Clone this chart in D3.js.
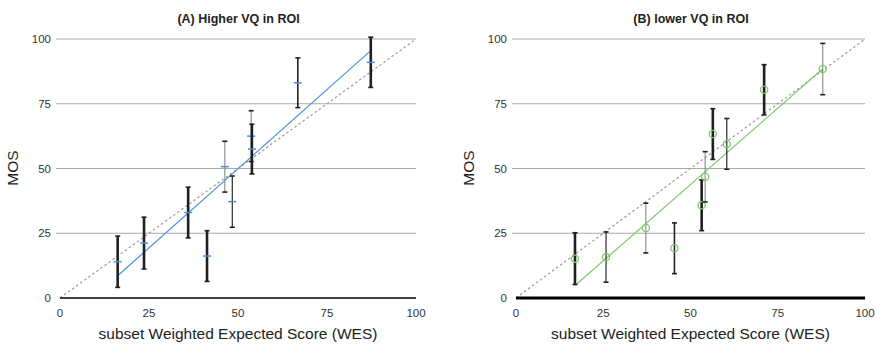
<!DOCTYPE html>
<html>
<head>
<meta charset="utf-8">
<script src="https://cdn.jsdelivr.net/npm/d3@7"></script>
<style>
  body { margin: 0; background: #fff; }
  text { font-family: "Liberation Sans", Arial, Helvetica, sans-serif; }
</style>
</head>
<body>
<svg id="chart" width="876" height="344"></svg>
<script>
var tickValues = [0, 25, 50, 75, 100];

// panel A: higher VQ in ROI
var wesA = [16.2, 23.6, 36.0, 41.3, 46.3, 48.4, 53.7, 53.9, 66.8, 87.3];
var mosA = [14.0, 21.2, 33.0, 16.2, 50.7, 37.2, 62.5, 57.5, 83.1, 91.0];
var errA = [9.9, 10.0, 9.8, 9.8, 9.8, 9.9, 9.8, 9.6, 9.6, 9.7];
var fitA = [[16.2, 8.6], [87.3, 95.5]];

// panel B: lower VQ in ROI
var wesB = [16.9, 25.8, 37.2, 45.4, 53.2, 54.2, 56.4, 60.4, 71.1, 87.9];
var mosB = [15.2, 15.8, 27.0, 19.2, 35.8, 46.8, 63.3, 59.5, 80.4, 88.4];
var errB = [10.0, 9.7, 9.6, 9.8, 9.8, 9.7, 9.8, 9.8, 9.7, 9.9];
var fitB = [[17.0, 4.9], [87.9, 88.5]];

// error bar look, one entry per point (thick black / thin grey as in the figure)
var barStyleA = ['b', 'b', 'b', 'b', 'g', 'k', 'g', 'b', 'm', 'b'];
var barStyleB = ['b', 'k', 'g', 'm', 'b', 'g', 'b', 'k', 'b', 'g'];
var barWidth = { b: 2.6, m: 1.6, k: 1.2, g: 1.1 };
var barColor = { b: '#1f1f1f', m: '#222', k: '#2a2a2a', g: '#888' };

var svg = d3.select('#chart');

function panel(opt) {
  var x = d3.scaleLinear().domain([0, 100]).range(opt.xr);
  var y = d3.scaleLinear().domain([0, 100]).range([298, 39]);
  var g = svg.append('g');

  // grid
  g.selectAll('.grid').data(tickValues.filter(function(d) { return d > 0; }))
    .enter().append('line')
    .attr('x1', opt.xr[0] - 4).attr('x2', opt.xr[1])
    .attr('y1', function(d) { return y(d); }).attr('y2', function(d) { return y(d); })
    .attr('stroke', '#aaa').attr('stroke-width', 1);

  // y labels
  g.selectAll('.yl').data(tickValues).enter().append('text')
    .attr('x', opt.xr[0] - 9).attr('y', function(d) { return y(d); })
    .attr('dy', '0.35em').attr('text-anchor', 'end')
    .attr('font-size', 11.5).attr('fill', '#333')
    .text(function(d) { return d; });

  // x labels
  g.selectAll('.xl').data(tickValues).enter().append('text')
    .attr('x', function(d) { return x(d); }).attr('y', 313)
    .attr('dy', '0.35em').attr('text-anchor', 'middle')
    .attr('font-size', 11.5).attr('fill', '#333')
    .text(function(d) { return d; });

  // identity diagonal
  g.append('line')
    .attr('x1', x(0)).attr('y1', y(0)).attr('x2', x(100)).attr('y2', y(100))
    .attr('stroke', '#999').attr('stroke-width', 1.2).attr('stroke-dasharray', '2.5,2.5');

  // x axis line
  g.append('line')
    .attr('x1', opt.xr[0]).attr('x2', opt.xr[1]).attr('y1', y(0)).attr('y2', y(0))
    .attr('stroke', '#000').attr('stroke-width', opt.axisW);

  // fit line
  g.append('line')
    .attr('x1', x(opt.fit[0][0])).attr('y1', y(opt.fit[0][1]))
    .attr('x2', x(opt.fit[1][0])).attr('y2', y(opt.fit[1][1]))
    .attr('stroke', opt.color).attr('stroke-width', 1.2);

  var pts = opt.wes.map(function(w, i) {
    return { w: w, m: opt.mos[i], e: opt.err[i], s: opt.style[i] };
  });

  var bars = g.selectAll('.bar').data(pts).enter().append('g');
  bars.append('line')
    .attr('x1', function(d) { return x(d.w); }).attr('x2', function(d) { return x(d.w); })
    .attr('y1', function(d) { return y(d.m + d.e); }).attr('y2', function(d) { return y(d.m - d.e); })
    .attr('stroke', function(d) { return barColor[d.s]; })
    .attr('stroke-width', function(d) { return barWidth[d.s]; });
  [1, -1].forEach(function(sgn) {
    bars.append('line')
      .attr('x1', function(d) { return x(d.w) - 2.5; }).attr('x2', function(d) { return x(d.w) + 2.5; })
      .attr('y1', function(d) { return y(d.m + sgn * d.e); }).attr('y2', function(d) { return y(d.m + sgn * d.e); })
      .attr('stroke', '#1f1f1f').attr('stroke-width', 1.6);
  });

  if (opt.marker === 'plus') {
    bars.append('line')
      .attr('x1', function(d) { return x(d.w) - 4; }).attr('x2', function(d) { return x(d.w) + 4; })
      .attr('y1', function(d) { return y(d.m); }).attr('y2', function(d) { return y(d.m); })
      .attr('stroke', opt.color).attr('stroke-width', 1.5);
  } else {
    bars.append('circle')
      .attr('cx', function(d) { return x(d.w); }).attr('cy', function(d) { return y(d.m); })
      .attr('r', 3.6).attr('fill', 'none')
      .attr('stroke', opt.color).attr('stroke-width', 1.3);
  }

  var cx = (opt.xr[0] + opt.xr[1]) / 2;
  g.append('text').attr('x', cx + 0.5).attr('y', 22.5)
    .attr('text-anchor', 'middle').attr('font-size', 12.5).attr('font-weight', 'bold')
    .attr('fill', '#222').text(opt.title);
  g.append('text').attr('x', cx).attr('y', 339)
    .attr('text-anchor', 'middle').attr('font-size', 15.5).attr('fill', '#222')
    .text('subset Weighted Expected Score (WES)');
  g.append('text')
    .attr('transform', 'translate(' + (opt.xr[0] - 42) + ',168) rotate(-90)')
    .attr('text-anchor', 'middle').attr('font-size', 15.5).attr('fill', '#222')
    .text('MOS');
}

panel({ xr: [60, 416], wes: wesA, mos: mosA, err: errA, style: barStyleA, fit: fitA,
        color: '#4a8fd6', marker: 'plus', axisW: 1.6, title: '(A) Higher VQ in ROI' });
panel({ xr: [516, 865], wes: wesB, mos: mosB, err: errB, style: barStyleB, fit: fitB,
        color: '#7dc96a', marker: 'circle', axisW: 3.2, title: '(B) lower VQ in ROI' });
</script>
</body>
</html>
